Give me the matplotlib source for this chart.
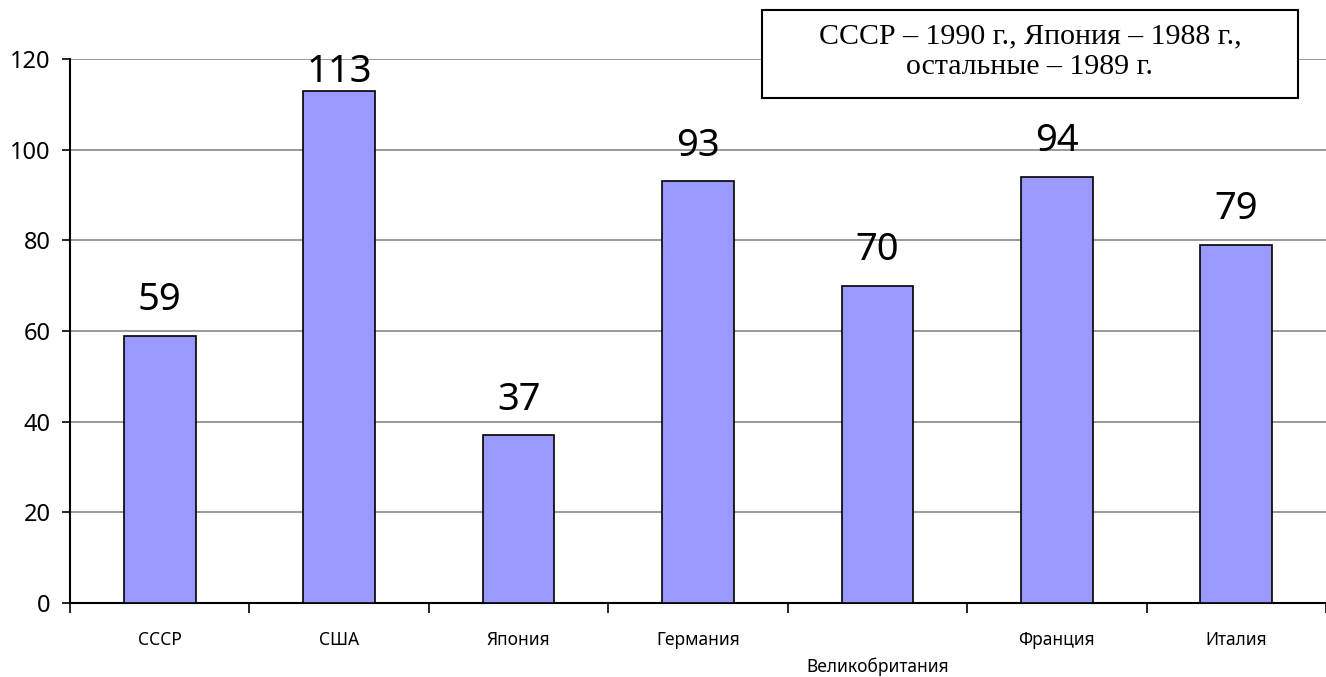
import matplotlib.pyplot as plt
import matplotlib.patches as mpatches
import numpy as np

plt.rcParams['font.family'] = ['Noto Sans', 'DejaVu Sans']

countries = ['СССР', 'США', 'Япония', 'Германия', 'Великобритания', 'Франция', 'Италия']
values = [59, 113, 37, 93, 70, 94, 79]
yticks = [0, 20, 40, 60, 80, 100, 120]
note = 'СССР – 1990 г., Япония – 1988 г.,\nостальные – 1989 г.'

W, H = 1326, 677
fig = plt.figure(figsize=(W / 100, H / 100), dpi=100)
ax = fig.add_axes([70 / W, 1 - 603 / H, 1 - 70 / W, (603 - 59) / H])

x = np.arange(len(values))
ax.bar(x, values, width=0.4, color='#9999ff', edgecolor='black', linewidth=1.2, zorder=3)

ax.set_ylim(0, 120)
ax.set_xlim(-0.5, -0.5 + (W - 70) / 180.3)
ax.set_yticks(yticks)
ax.yaxis.grid(True, color='#888888', linewidth=1.2, zorder=0)
ax.set_axisbelow(True)

# category labels at centres, boundary ticks as minor ticks
labels = [c if i != 4 else '\n' + c for i, c in enumerate(countries)]
ax.set_xticks(x)
ax.set_xticklabels(labels, fontsize=12.5, linespacing=1.6)
ax.set_xticks(np.arange(-0.5, len(values) + 0.5, 1), minor=True)
ax.tick_params(axis='x', which='major', length=0, pad=20)
ax.tick_params(axis='x', which='minor', length=7, width=1.2, direction='out')
ax.tick_params(axis='y', length=6, width=1.2, direction='out', labelsize=17, pad=8)

for s in ['top', 'right']:
    ax.spines[s].set_visible(False)
for s in ['left', 'bottom']:
    ax.spines[s].set_linewidth(1.5)

# value labels (the tallest one is pushed down to stay inside the plot)
for xi, v in zip(x, values):
    off = 0 if v + 14 > 120 else 12
    ax.annotate(str(v), (xi, v), xytext=(0, off), textcoords='offset points',
                ha='center', va='bottom', fontsize=27.5, zorder=4)

# note box
rect = mpatches.Rectangle((762 / W, 1 - 98 / H), (1298 - 762) / W, 88 / H,
                          transform=fig.transFigure, facecolor='white',
                          edgecolor='black', linewidth=1.5, zorder=5)
fig.patches.append(rect)
fig.text((762 + 1298) / 2 / W, 1 - 52 / H, note, ha='center', va='center',
         fontsize=21.5, family='Liberation Serif', linespacing=1.25, zorder=6)

fig.savefig('out.png', dpi=100)
